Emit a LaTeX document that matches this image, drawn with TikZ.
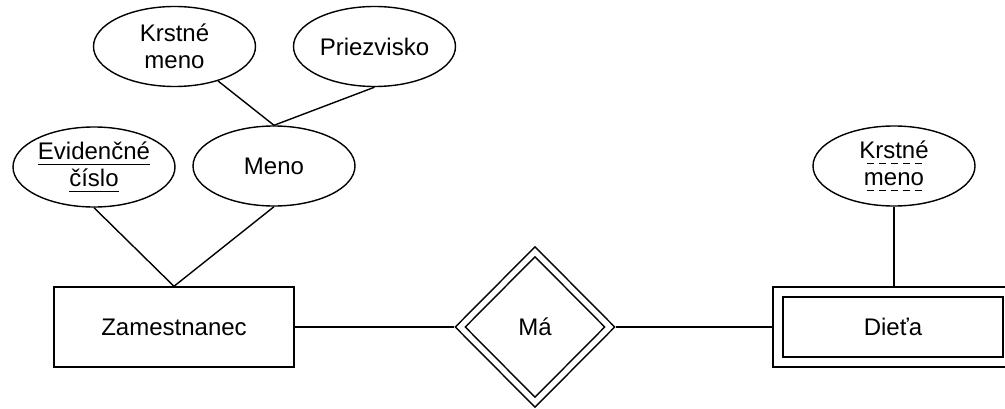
\documentclass[tikz,border=0pt]{standalone}
\usepackage{fontspec}
\setmainfont{Liberation Sans}
\usetikzlibrary{shapes.geometric}

% solid and dashed underlines for key attributes
\newcommand\solidul[1]{\setbox0\hbox{#1}\rlap{\copy0}\rule[-5.5pt]{\wd0}{1.3pt}}
\newcommand\dashedul[1]{\setbox0\hbox{#1}\rlap{\copy0}%
  \hbox to \wd0{\cleaders\hbox{\kern2.5pt\rule[-5.5pt]{7pt}{1.3pt}\kern2.5pt}\hfill}}

\tikzset{
  every picture/.style={line width=1.4pt, x=1pt, y=1pt},
  attr/.style={draw, ellipse, minimum width=162pt, minimum height=80pt,
    inner sep=0pt, align=center, font=\fontsize{24}{27}\selectfont},
  entity/.style={draw, rectangle, minimum width=240pt, minimum height=80pt,
    inner sep=0pt, font=\fontsize{24}{27}\selectfont},
  relation/.style={draw, diamond, inner sep=0pt, font=\fontsize{24}{27}\selectfont},
}

\begin{document}
\begin{tikzpicture}
  \useasboundingbox (0,0) rectangle (1005,408);

  % attributes
  \node[attr] (kr1)  at (174.5,361.5) {Krstné\\meno};
  \node[attr] (pr)   at (374.5,361.5) {Priezvisko};
  \node[attr] (ev)   at (94,241)      {\solidul{Evidenčné}\\\solidul{číslo}};
  \node[attr] (meno) at (274,242)     {Meno};
  \node[attr] (kr2)  at (894,242)     {\dashedul{Krstné}\\\dashedul{meno}};

  % strong entity
  \node[entity] (zam) at (174,81) {Zamestnanec};

  % identifying relationship (double diamond)
  \node[relation, minimum width=160pt, minimum height=161pt] (ma) at (535,81) {};
  \node[relation, minimum width=140pt, minimum height=141pt] (mai) at (ma.center) {Má};

  % weak entity (double rectangle)
  \node[entity] (die) at (893,81) {};
  \node[entity, minimum width=220pt, minimum height=60pt] (diei) at (die.center) {Dieťa};

  % connectors
  \draw (kr1) -- (meno.north);
  \draw (pr.south) -- (meno.north);
  \draw (ev.south) -- (zam.north);
  \draw (meno.south) -- (zam.north);
  \draw (kr2.south) -- (kr2.south |- die.north);
  \draw (zam.east) -- (ma.west);
  \draw (ma.east) -- (die.west);
\end{tikzpicture}
\end{document}
